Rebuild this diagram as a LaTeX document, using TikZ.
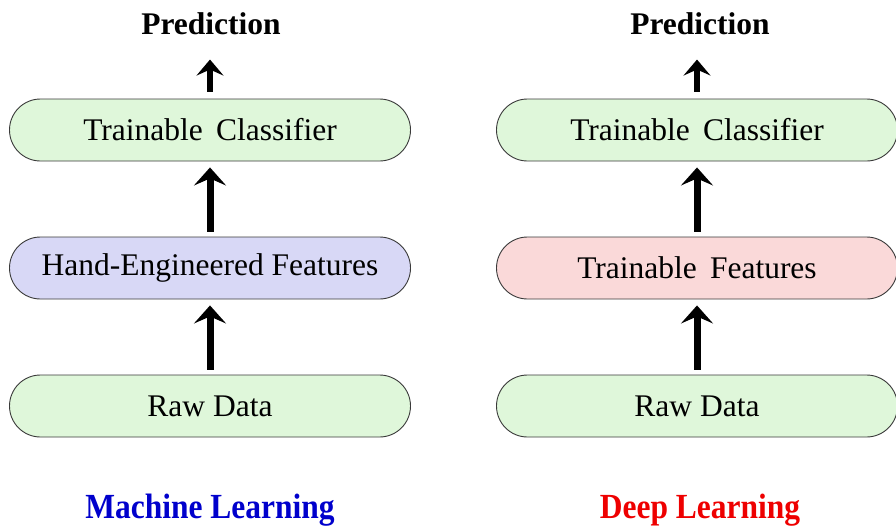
\documentclass[tikz,border=0pt]{standalone}
\usepackage{fontspec}
\setmainfont{Liberation Serif}
\usetikzlibrary{arrows.meta}
\definecolor{gfill}{HTML}{DFF7DA}
\definecolor{bfill}{HTML}{D8D8F6}
\definecolor{rfill}{HTML}{FAD9D9}
\definecolor{edge}{HTML}{3A3A3A}
\definecolor{mlblue}{HTML}{0000CC}
\definecolor{dlred}{HTML}{EE0000}
\tikzset{
  stage/.style={draw=edge, line width=0.9pt, rounded corners=31pt, minimum width=401pt, minimum height=62pt, inner sep=0pt, font=\fontsize{31.5}{36}\selectfont},
  title/.style={font=\fontsize{31.5}{36}\selectfont\bfseries, inner sep=0pt},
  bigarrow/.style={line width=7pt, -{Stealth[length=18pt,width=32pt,inset=7pt]}},
  smallarrow/.style={line width=6.5pt, -{Stealth[length=16pt,width=27pt,inset=6pt]}}
}
\begin{document}
\begin{tikzpicture}[x=1pt,y=-1pt]
\useasboundingbox (0,0) rectangle (896,525);
% left column
\node[title] (predL) at (211,24) {Prediction};
\node[stage, fill=gfill] (clsL) at (210,130) {Trainable\, Classifier};
\node[stage, fill=bfill] (featL) at (210,268) {Hand-Engineered Features};
\node[stage, fill=gfill] (rawL) at (210,406) {Raw Data};
\node[title, text=mlblue, yscale=1.12] (ml) at (210,510) {Machine Learning};
% right column
\node[title] (predR) at (700,24) {Prediction};
\node[stage, fill=gfill] (clsR) at (697,130) {Trainable\, Classifier};
\node[stage, fill=rfill] (featR) at (697,268) {Trainable\, Features};
\node[stage, fill=gfill] (rawR) at (697,406) {Raw Data};
\node[title, text=dlred, yscale=1.12] (dl) at (700,510) {Deep Learning};
% arrows
\foreach \c in {L,R}{
  \draw[bigarrow, shorten <=5pt, shorten >=6pt] (raw\c.north) -- (feat\c.south);
  \draw[bigarrow, shorten <=5pt, shorten >=6pt] (feat\c.north) -- (cls\c.south);
  \draw[smallarrow] ([yshift=7pt]cls\c.north) -- ([yshift=39pt]cls\c.north);
}
\end{tikzpicture}
\end{document}
